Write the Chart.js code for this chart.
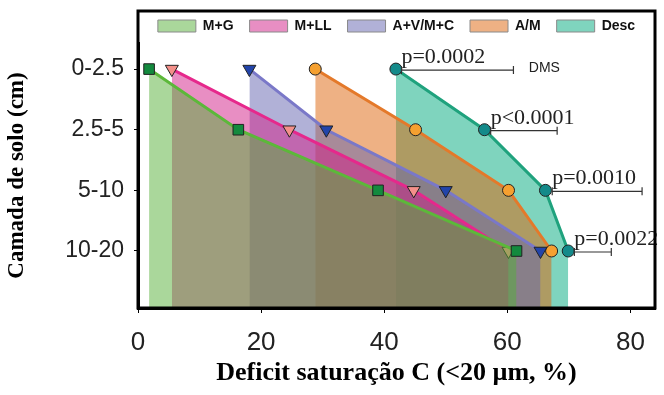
<!DOCTYPE html>
<html>
<head>
<meta charset="utf-8">
<script src="https://cdn.jsdelivr.net/npm/chart.js@4/dist/chart.umd.min.js"></script>
<style>
  html, body { margin: 0; padding: 0; background: #fff; }
  #wrap { width: 664px; height: 395px; }
</style>
</head>
<body>
<div id="wrap"><canvas id="myChart" width="664" height="395"></canvas></div>
<script>
// camadas de solo, de cima para baixo
const camadas = ['0-2.5', '2.5-5', '5-10', '10-20'];
const nomes = ['M+G', 'M+LL', 'A+V/M+C', 'A/M', 'Desc'];

// deficit de saturação (%) por camada
const mg   = [1.8, 16.3, 39.0, 61.5];
const mll  = [5.5, 24.6, 44.8, 60.2];
const avmc = [18.1, 30.6, 50.0, 65.4];
const am   = [28.8, 45.1, 60.2, 67.2];
const desc = [41.9, 56.3, 66.2, 69.9];

// DMS e valores de p por camada
const pTextos = ['p=0.0002', 'p<0.0001', 'p=0.0010', 'p=0.0022'];
const dmsInicio = [42.8, 57.3, 67.3, 70.9];
const dmsFim = [61.0, 68.1, 81.9, 76.9];

const xTicks = [0, 20, 40, 60, 80];

function toPoints(arr) {
  return arr.map((v, i) => ({ x: v, y: camadas.length - i }));
}

function serie(label, valores, fundo, linha, ponto, estilo, rot) {
  return {
    label: label,
    data: toPoints(valores),
    backgroundColor: fundo,
    borderColor: linha,
    borderWidth: 3,
    fill: 'start',
    tension: 0,
    pointStyle: estilo,
    pointRotation: rot,
    pointRadius: estilo === 'circle' ? 6 : 7.5,
    pointBackgroundColor: ponto,
    pointBorderColor: '#222',
    pointBorderWidth: 1,
  };
}

// linhas de DMS com os textos
const pluginDMS = {
  id: 'dms',
  afterDatasetsDraw(chart) {
    const { ctx, scales: { x, y } } = chart;
    ctx.save();
    ctx.strokeStyle = '#333';
    ctx.lineWidth = 1.2;
    ctx.fillStyle = '#222';
    pTextos.forEach((t, i) => {
      const yy = y.getPixelForValue(camadas.length - i) + 1;
      const x0 = x.getPixelForValue(dmsInicio[i]);
      const x1 = x.getPixelForValue(dmsFim[i]);
      ctx.beginPath();
      ctx.moveTo(x0, yy); ctx.lineTo(x1, yy);
      ctx.moveTo(x0, yy - 4); ctx.lineTo(x0, yy + 4);
      ctx.moveTo(x1, yy - 4); ctx.lineTo(x1, yy + 4);
      ctx.stroke();
      ctx.font = '22px "Liberation Serif"';
      ctx.textAlign = 'left';
      ctx.textBaseline = 'alphabetic';
      ctx.fillText(t, x0, yy - 7);
    });
    ctx.font = '14px "Liberation Sans"';
    ctx.textBaseline = 'middle';
    ctx.fillText('DMS', x.getPixelForValue(63.5), y.getPixelForValue(camadas.length) - 1);
    ctx.restore();
  }
};

// moldura em volta do gráfico e da legenda
const pluginMoldura = {
  id: 'moldura',
  afterDraw(chart) {
    const { ctx, chartArea } = chart;
    const top = chart.legend.top + 8;
    ctx.save();
    ctx.strokeStyle = '#000';
    ctx.lineWidth = 3;
    ctx.strokeRect(chartArea.left, top, chartArea.right - chartArea.left, chartArea.bottom - top);
    ctx.restore();
  }
};

const data = {
  datasets: [
    serie(nomes[0], mg,   'rgba(85,175,55,0.5)',  '#5cb83a', '#138a3e', 'rect', 0),
    serie(nomes[1], mll,  'rgba(210,30,135,0.5)', '#e6288c', '#f4908a', 'triangle', 180),
    serie(nomes[2], avmc, 'rgba(100,100,175,0.5)', '#7a78c8', '#2244aa', 'triangle', 180),
    serie(nomes[3], am,   'rgba(222,100,10,0.5)', '#e4792a', '#f5a030', 'circle', 0),
    serie(nomes[4], desc, 'rgba(0,170,125,0.5)',  '#1fa27d', '#148a8a', 'circle', 0),
  ]
};

const config = {
  type: 'line',
  data: data,
  options: {
    responsive: false,
    animation: false,
    layout: { padding: { top: 3, right: 9, bottom: 0, left: 0 } },
    plugins: {
      legend: {
        position: 'top',
        fullSize: false,
        labels: {
          boxWidth: 38,
          boxHeight: 12,
          padding: 16,
          color: '#111',
          font: { family: 'Liberation Sans', size: 14, weight: 'bold' },
          generateLabels: function(chart) {
            const items = Chart.defaults.plugins.legend.labels.generateLabels(chart);
            items.forEach(it => { it.strokeStyle = '#8a8a8a'; it.lineWidth = 1; });
            return items;
          }
        }
      },
      tooltip: { enabled: false }
    },
    scales: {
      x: {
        type: 'linear',
        min: 0,
        max: 84,
        afterBuildTicks: s => { s.ticks = xTicks.map(v => ({ value: v })); },
        afterFit: s => { s.height = 87; },
        ticks: { font: { family: 'Liberation Sans', size: 26 }, color: '#222', padding: 14, maxRotation: 0 },
        grid: { drawOnChartArea: false, tickLength: 5, color: '#000' },
        border: { color: '#000', width: 3 },
        title: {
          display: true,
          text: 'Deficit saturação C (<20 µm, %)',
          font: { family: 'Liberation Serif', size: 26, weight: 'bold' },
          color: '#000',
          padding: { top: 0, bottom: 6 }
        }
      },
      y: {
        type: 'linear',
        min: 0.06,
        max: 4.43,
        afterBuildTicks: s => { s.ticks = camadas.map((c, i) => ({ value: camadas.length - i })); },
        afterFit: s => { s.width = 138; },
        ticks: {
          callback: v => camadas[camadas.length - Math.round(v)],
          font: { family: 'Liberation Sans', size: 23 },
          color: '#222',
          padding: 10
        },
        grid: { drawOnChartArea: false, tickLength: 4, color: '#000' },
        border: { color: '#000', width: 3 },
        title: {
          display: true,
          text: 'Camada de solo (cm)',
          font: { family: 'Liberation Serif', size: 23, weight: 'bold' },
          color: '#000',
          padding: { top: 3, bottom: 0 }
        }
      }
    }
  },
  plugins: [pluginDMS, pluginMoldura]
};

const myChart = new Chart(document.getElementById('myChart'), config);
</script>
</body>
</html>
